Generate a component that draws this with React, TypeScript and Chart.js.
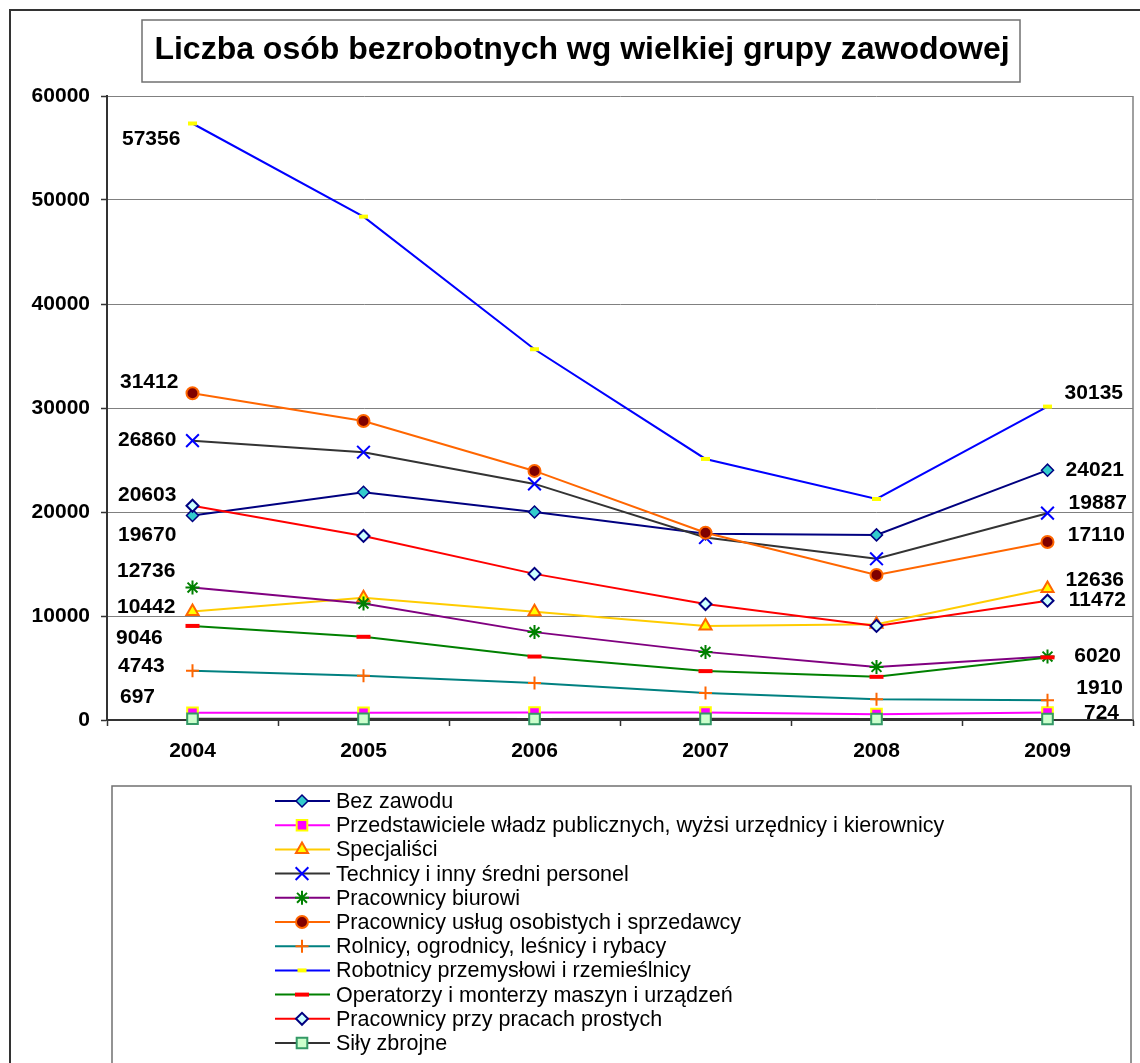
import React, { useEffect, useRef } from 'react';
import { Chart, registerables } from 'chart.js';
import { drawPoint } from 'chart.js/helpers';

Chart.register(...registerables);

const FONT = '"Liberation Sans", Arial, Helvetica, sans-serif';

const chartTitle = 'Liczba osób bezrobotnych wg wielkiej grupy zawodowej';

const years = ['2004', '2005', '2006', '2007', '2008', '2009'];
const yTicks = [0, 10000, 20000, 30000, 40000, 50000, 60000];

const seriesNames = [
  'Bez zawodu',
  'Przedstawiciele władz publicznych, wyżsi urzędnicy i kierownicy',
  'Specjaliści',
  'Technicy i inny średni personel',
  'Pracownicy biurowi',
  'Pracownicy usług osobistych i sprzedawcy',
  'Rolnicy, ogrodnicy, leśnicy i rybacy',
  'Robotnicy przemysłowi i rzemieślnicy',
  'Operatorzy i monterzy maszyn i urządzeń',
  'Pracownicy przy pracach prostych',
  'Siły zbrojne',
];

const bezZawodu = [19670, 21900, 20000, 17900, 17800, 24021];
const przedstawiciele = [697, 700, 720, 720, 560, 724];
const specjalisci = [10442, 11750, 10400, 9050, 9200, 12636];
const technicy = [26860, 25750, 22700, 17550, 15500, 19887];
const biurowi = [12736, 11200, 8450, 6550, 5100, 6100];
const uslug = [31412, 28750, 23950, 18000, 13950, 17110];
const rolnicy = [4743, 4250, 3550, 2600, 2000, 1910];
const robotnicy = [57356, 48400, 35650, 25100, 21250, 30135];
const operatorzy = [9046, 8000, 6100, 4700, 4150, 6020];
const prostych = [20603, 17700, 14050, 11150, 9050, 11472];
const silyZbrojne = [120, 110, 100, 110, 90, 100];

const seriesValues = [
  bezZawodu, przedstawiciele, specjalisci, technicy, biurowi, uslug,
  rolnicy, robotnicy, operatorzy, prostych, silyZbrojne,
];

// which series carry a value label at the first / last year
const labelFirst = [true, true, true, true, true, true, true, true, true, true, false];
const labelLast = [true, true, true, true, false, true, true, true, true, true, false];

export default function App() {
  const ref = useRef<HTMLCanvasElement>(null);

  useEffect(() => {
    const canvas = ref.current;
    if (!canvas) return;

    const styles = [
      { line: '#000080', ps: 'rectRot', r: 6, bg: '#33CCCC', bd: '#000080', bw: 1.5 },
      { line: '#FF00FF', ps: 'rect', r: 7.5, bg: '#FF00FF', bd: '#FFFF00', bw: 2 },
      { line: '#FFCC00', ps: 'triangle', r: 7, bg: '#FFFF00', bd: '#FF6600', bw: 2 },
      { line: '#333333', ps: 'crossRot', r: 9, bg: '#0000FF', bd: '#0000FF', bw: 2 },
      { line: '#800080', ps: 'star', r: 7, bg: '#008000', bd: '#008000', bw: 2 },
      { line: '#FF6600', ps: 'circle', r: 6, bg: '#800000', bd: '#FF6600', bw: 2 },
      { line: '#008080', ps: 'cross', r: 6.5, bg: '#FF6600', bd: '#FF6600', bw: 2 },
      { line: '#0000FF', ps: 'line', r: 4.5, bg: '#FFFF00', bd: '#FFFF00', bw: 4 },
      { line: '#008000', ps: 'line', r: 7, bg: '#FF0000', bd: '#FF0000', bw: 4 },
      { line: '#FF0000', ps: 'rectRot', r: 6, bg: '#CCFFFF', bd: '#000080', bw: 2 },
      { line: '#333333', ps: 'rect', r: 7.5, bg: '#CCFFCC', bd: '#339966', bw: 2 },
    ];

    // label placement nudges (pixels, relative to the point)
    const nudgeFirst = [
      { dx: -74.5, dy: 19 }, { dx: -72.5, dy: -17 }, { dx: -75.5, dy: -5 }, { dx: -74.5, dy: -1.5 },
      { dx: -75.5, dy: -17 }, { dx: -72.5, dy: -12.5 }, { dx: -74.5, dy: -5 }, { dx: -70.5, dy: 14.5 },
      { dx: -76.5, dy: 11 }, { dx: -74.5, dy: -12 }, { dx: 0, dy: 0 },
    ];
    const nudgeLast = [
      { dx: 76.5, dy: -1 }, { dx: 71.5, dy: 0 }, { dx: 76.5, dy: -9.5 }, { dx: 79.5, dy: -11 },
      { dx: 0, dy: 0 }, { dx: 77.5, dy: -8 }, { dx: 75.5, dy: -13 }, { dx: 75.5, dy: -14 },
      { dx: 73.5, dy: -1.7 }, { dx: 78.5, dy: -1.7 }, { dx: 0, dy: 0 },
    ];

    const datasets = seriesNames.map((name, i) => ({
      label: name,
      data: seriesValues[i],
      borderColor: styles[i].line,
      backgroundColor: styles[i].line,
      borderWidth: 2,
      tension: 0,
      fill: false,
      clip: false as any,
      order: 20 - i,
      pointStyle: styles[i].ps as any,
      pointRadius: styles[i].r,
      pointHoverRadius: styles[i].r,
      pointBackgroundColor: styles[i].bg,
      pointBorderColor: styles[i].bd,
      pointBorderWidth: styles[i].bw,
    }));

    const decor = {
      id: 'decor',
      beforeDraw(chart: any) {
        const ctx = chart.ctx as CanvasRenderingContext2D;
        ctx.save();
        ctx.fillStyle = '#ffffff';
        ctx.fillRect(0, 0, chart.width, chart.height);
        ctx.strokeStyle = '#333333';
        ctx.lineWidth = 2;
        ctx.strokeRect(10, 10, 1200, 1200);
        ctx.restore();
      },
      afterDatasetsDraw(chart: any) {
        const ctx = chart.ctx as CanvasRenderingContext2D;
        const area = chart.chartArea;
        ctx.save();
        // plot area right edge
        ctx.strokeStyle = '#808080';
        ctx.lineWidth = 1.5;
        ctx.beginPath();
        ctx.moveTo(area.right, area.top);
        ctx.lineTo(area.right, area.bottom);
        ctx.stroke();

        ctx.fillStyle = '#000000';
        ctx.font = `bold 21px ${FONT}`;
        ctx.textBaseline = 'middle';
        seriesValues.forEach((vals, i) => {
          const meta = chart.getDatasetMeta(i);
          if (labelFirst[i]) {
            const p = meta.data[0];
            ctx.textAlign = 'left';
            ctx.fillText(String(vals[0]), p.x + nudgeFirst[i].dx, p.y + nudgeFirst[i].dy + 1);
          }
          if (labelLast[i]) {
            const n = vals.length - 1;
            const p = meta.data[n];
            ctx.textAlign = 'right';
            ctx.fillText(String(vals[n]), p.x + nudgeLast[i].dx, p.y + nudgeLast[i].dy + 1);
          }
        });
        ctx.restore();
      },
      afterDraw(chart: any) {
        const ctx = chart.ctx as CanvasRenderingContext2D;
        ctx.save();
        // title box
        ctx.strokeStyle = '#707070';
        ctx.lineWidth = 1.5;
        ctx.strokeRect(142, 20, 878, 62);
        ctx.fillStyle = '#000000';
        ctx.font = `bold 32px ${FONT}`;
        ctx.textAlign = 'center';
        ctx.textBaseline = 'middle';
        ctx.fillText(chartTitle, 582, 50.5);

        // legend box
        ctx.strokeStyle = '#707070';
        ctx.lineWidth = 1.5;
        ctx.strokeRect(112, 786, 1019, 400);

        const y0 = 801;
        const step = 24.2;
        seriesNames.forEach((name, i) => {
          const y = y0 + i * step;
          const s = styles[i];
          ctx.strokeStyle = s.line;
          ctx.lineWidth = 2;
          ctx.beginPath();
          ctx.moveTo(275, y);
          ctx.lineTo(330, y);
          ctx.stroke();
          ctx.fillStyle = s.bg;
          ctx.strokeStyle = s.bd;
          ctx.lineWidth = s.bw;
          drawPoint(ctx, { pointStyle: s.ps as any, rotation: 0, radius: s.r, borderWidth: s.bw } as any, 302, y);
          ctx.fillStyle = '#000000';
          ctx.font = `21.5px ${FONT}`;
          ctx.textAlign = 'left';
          ctx.textBaseline = 'middle';
          ctx.fillText(name, 336, y + 1);
        });
        ctx.restore();
      },
    };

    const chart = new Chart(canvas, {
      type: 'line',
      data: { labels: years, datasets },
      options: {
        responsive: false,
        animation: false,
        events: [],
        layout: { autoPadding: false, padding: { left: 0, top: 96, right: 7, bottom: 0 } },
        plugins: {
          legend: { display: false },
          title: { display: false },
          tooltip: { enabled: false },
        },
        scales: {
          x: {
            type: 'category',
            offset: true,
            ticks: { color: '#000000', font: { family: FONT, size: 21, weight: 'bold' }, padding: 13 },
            grid: { offset: true, drawOnChartArea: false, tickLength: 6, tickColor: '#333333', tickWidth: 1.5 },
            border: { color: '#333333', width: 2 },
            afterFit: (s: any) => { s.height = 343; },
          },
          y: {
            type: 'linear',
            min: yTicks[0],
            max: yTicks[yTicks.length - 1],
            afterBuildTicks: (s: any) => { s.ticks = yTicks.map((v) => ({ value: v })); },
            ticks: {
              color: '#000000',
              font: { family: FONT, size: 21, weight: 'bold' },
              padding: 11,
              callback: (v: any) => String(v),
            },
            grid: { color: '#808080', lineWidth: 1, tickLength: 6, tickColor: '#333333', tickWidth: 1.5 },
            border: { color: '#333333', width: 2 },
            afterFit: (s: any) => { s.width = 107; },
          },
        },
      },
      plugins: [decor],
    });

    return () => chart.destroy();
  }, []);

  return (
    <div style={{ position: 'fixed', left: 0, top: 0, width: 1140, height: 1063, background: '#fff' }}>
      <canvas ref={ref} width={1140} height={1063} style={{ display: 'block' }} />
    </div>
  );
}
